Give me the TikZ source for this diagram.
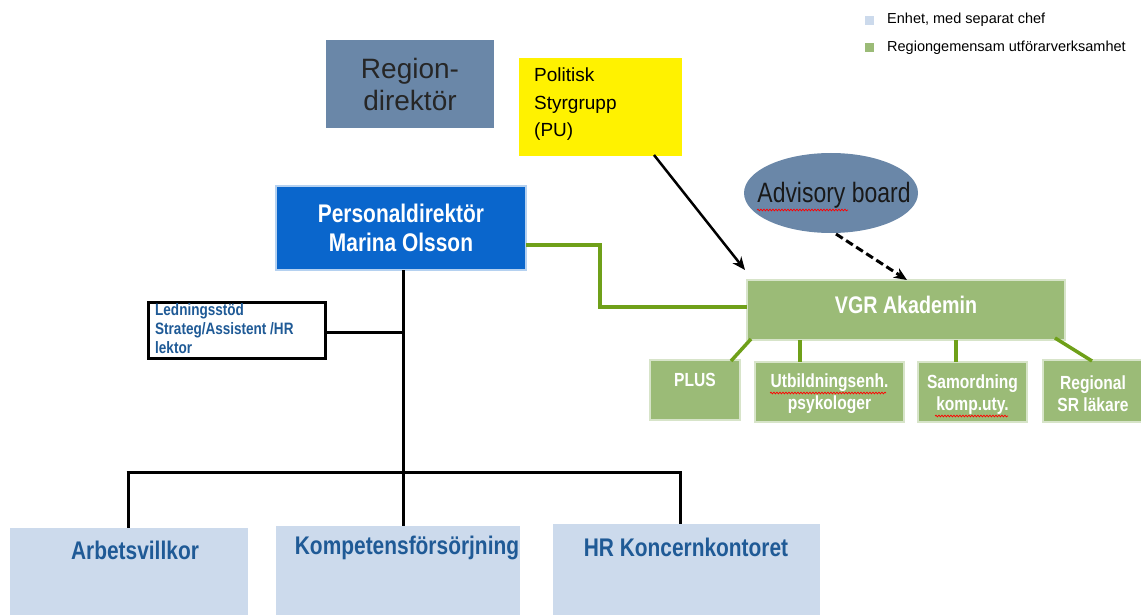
\documentclass[tikz,border=0pt]{standalone}
\usepackage{fontspec}
\setmainfont{Liberation Sans}
\newfontfamily\narrowf[FakeStretch=0.82]{Liberation Sans}
\usetikzlibrary{shapes.geometric,arrows.meta,decorations.pathmorphing}
\definecolor{slate}{HTML}{6A87A8}
\definecolor{pdblue}{HTML}{0A66CC}
\definecolor{vgreen}{HTML}{9BBB77}
\definecolor{lineg}{HTML}{6FA019}
\definecolor{lblue}{HTML}{CCDAEC}
\definecolor{tblue}{HTML}{1F5A96}
\tikzset{
  box/.style={draw=none, inner sep=0pt, outer sep=0pt, anchor=north west},
  gbox/.style={box, fill=vgreen, draw=vgreen!40!white, line width=2pt},
  gtext/.style={text=white, inner sep=0pt, align=center, font=\narrowf\bfseries\fontsize{19}{22}\selectfont},
  bbox/.style={box, fill=lblue},
  btext/.style={text=tblue, inner sep=0pt, font=\narrowf\bfseries\fontsize{25.5}{28}\selectfont},
  gline/.style={lineg, line width=3.5pt},
  kline/.style={black, line width=3pt},
  wavy/.style={red, line width=0.7pt, decorate, decoration={snake, amplitude=0.9pt, segment length=3pt}}
}
\begin{document}
\begin{tikzpicture}[x=1pt,y=-1pt]
\useasboundingbox (0,0) rectangle (1141,615);
% legend
\fill[lblue] (865,16) rectangle (874,25);
\fill[vgreen] (865,43) rectangle (874,52);
\node[anchor=west, font=\fontsize{14.5}{16}\selectfont, inner sep=0pt] (lg1) at (887,20) {Enhet, med separat chef};
\node[anchor=west, font=\fontsize{14.5}{16}\selectfont, inner sep=0pt] (lg2) at (887,48) {Regiongemensam utförarverksamhet};
% Regiondirektor
\node[box, fill=slate, minimum width=168pt, minimum height=88pt] (rd) at (326,40) {};
\node[align=center, font=\fontsize{28}{32}\selectfont, text=black!85] (rdt) at (rd.center) {Region-\\direktör};
% Politisk
\node[box, fill=yellow, minimum width=163pt, minimum height=98pt] (pu) at (519,58) {};
\node[anchor=north west, align=left, inner sep=0pt, font=\fontsize{19}{27.5}\selectfont] (put) at (534,68) {Politisk\\Styrgrupp\\(PU)};
% Personaldirektor
\node[box, fill=pdblue, draw=pdblue!30!white, line width=2pt, minimum width=250pt, minimum height=84pt] (pd) at (276,186) {};
\node[align=center, text=white, font=\narrowf\bfseries\fontsize{25.5}{29}\selectfont] (pdt) at (pd.center) {Personaldirektör\\Marina Olsson};
% Advisory board
\node[ellipse, fill=slate, minimum width=174pt, minimum height=80pt, inner sep=0pt] (ab) at (831,193) {};
\node[font=\narrowf\fontsize{28}{32}\selectfont, text=black!90, inner sep=0pt] (abt) at (834,195) {Advisory board};
\draw[wavy] (757,210) -- (848,210);
% VGR Akademin
\node[gbox, minimum width=318pt, minimum height=60pt] (vgr) at (747,280) {};
\node[gtext, font=\narrowf\bfseries\fontsize{24}{28}\selectfont] (vgrt) at (906,305) {VGR Akademin};
% sub boxes
\node[gbox, minimum width=90pt, minimum height=60pt] (plus) at (650,360) {};
\node[gtext] (plust) at (695,380) {PLUS};
\node[gbox, minimum width=149pt, minimum height=60pt] (utb) at (755,362) {};
\node[gtext] (utbt) at (829.5,394) {Utbildningsenh.\\psykologer};
\draw[wavy] (770,393) -- (886,393);
\node[gbox, minimum width=109pt, minimum height=60pt] (sam) at (918,362) {};
\node[gtext] (samt) at (972.5,395) {Samordning\\komp.uty.};
\draw[wavy] (935,416) -- (1008,416);
\node[gbox, minimum width=100pt, minimum height=62pt] (reg) at (1043,360) {};
\node[gtext] (regt) at (1093,394) {Regional\\SR läkare};
% green connectors
\draw[gline] (pd.east |- 0,245) -- (600,245) -- (600,307) -- (vgr.west |- 0,307);
\draw[gline] (751,339) -- (731,361);
\draw[gline] (800,340) -- (utb.north -| 800,0);
\draw[gline] (956,340) -- (sam.north -| 956,0);
\draw[gline] (1055,338) -- (1092,361);
% arrows
\draw[black, line width=2.5pt, -{Stealth[length=13pt,width=11pt]}] (654,155) -- (745,270);
\draw[black, line width=3pt, dash pattern=on 8pt off 4pt, -{Stealth[length=13pt,width=11pt]}] (836,234) -- (907,280);
% Ledningsstod
\node[box, fill=white, draw=black, line width=3pt, minimum width=177pt, minimum height=56pt] (ls) at (148,302) {};
\node[anchor=north west, inner sep=0pt, align=left, text=tblue, font=\narrowf\bfseries\fontsize{16.5}{19}\selectfont] (lst) at (155,303) {Ledningsstöd\\Strateg/Assistent /HR\\lektor};
% black tree
\coordinate (j1) at (403,332);
\coordinate (j2) at (403,472);
\draw[kline] (pd.south -| 403,0) -- (j2);
\draw[kline] (ls.east |- j1) -- (j1);
% bottom boxes
\node[bbox, minimum width=238pt, minimum height=88pt] (ab1) at (10,528) {};
\node[btext] (ab1t) at (135,550) {Arbetsvillkor};
\node[bbox, minimum width=244pt, minimum height=90pt] (kf) at (276,526) {};
\node[btext] (kft) at (407,548) {Kompetensförsörjning};
\node[bbox, minimum width=267pt, minimum height=92pt] (hr) at (553,524) {};
\node[btext] (hrt) at (686,547) {HR Koncernkontoret};
\draw[kline] (126.5,472) -- (681.5,472);
\draw[kline] (128,472) -- (ab1.north -| 128,0);
\draw[kline] (j2) -- (kf.north -| 403,0);
\draw[kline] (680,472) -- (hr.north -| 680,0);
\end{tikzpicture}
\end{document}
